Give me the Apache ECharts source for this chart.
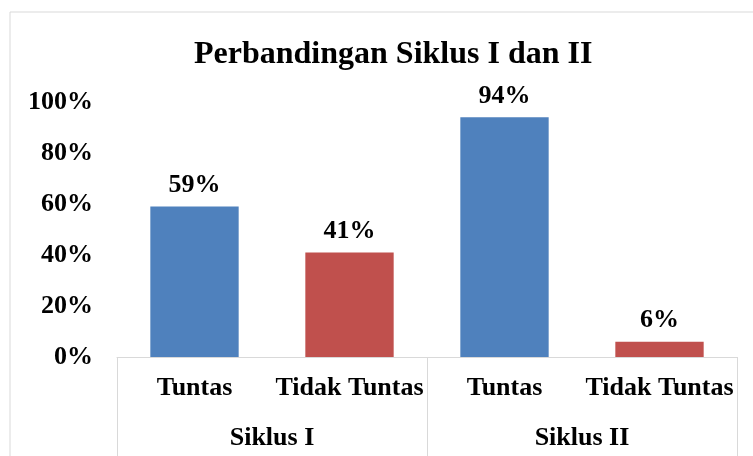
<!DOCTYPE html>
<html>
<head>
<meta charset="utf-8">
<script src="https://cdn.jsdelivr.net/npm/echarts@6/dist/echarts.min.js"></script>
<style>
  html, body { margin: 0; padding: 0; background: #fff; }
  #main { width: 753px; height: 456px; }
</style>
</head>
<body>
<div id="main"></div>
<script>
// data
const categories = ["Tuntas", "Tidak Tuntas", "Tuntas", "Tidak Tuntas"];
const groups = ["Siklus I", "Siklus II"];
const values = [59, 41, 94, 6];
const barColors = ["#4F81BD", "#C0504D"];

const font = "'Liberation Serif', 'Times New Roman', serif";

const chart = echarts.init(document.getElementById("main"));

const option = {
  animation: false,
  title: {
    text: "Perbandingan Siklus I dan II",
    left: 189,
    top: 34,
    textStyle: { fontFamily: font, fontSize: 32, fontWeight: "bold", color: "#000" }
  },
  // outer border of the chart area
  graphic: [
    {
      type: "rect",
      shape: { x: 10, y: 12, width: 780, height: 480 },
      style: { fill: "none", stroke: "#d9d9d9", lineWidth: 1 },
      silent: true
    }
  ],
  grid: { left: 117, right: 16, top: 102, bottom: 99 },
  xAxis: [
    {
      type: "category",
      data: categories,
      axisLine: { lineStyle: { color: "#d9d9d9", width: 1 } },
      axisTick: { show: false },
      axisLabel: {
        interval: 0,
        margin: 18,
        color: "#000",
        fontFamily: font,
        fontSize: 26,
        fontWeight: "bold"
      }
    },
    {
      type: "category",
      data: groups,
      position: "bottom",
      axisLine: { show: false },
      axisTick: { show: true, length: 100, lineStyle: { color: "#d9d9d9" } },
      axisLabel: {
        interval: 0,
        margin: 68,
        color: "#000",
        fontFamily: font,
        fontSize: 26,
        fontWeight: "bold"
      }
    }
  ],
  yAxis: {
    type: "value",
    min: 0,
    max: 100,
    interval: 20,
    axisLine: { show: false },
    axisTick: { show: false },
    splitLine: { show: false },
    axisLabel: {
      formatter: "{value}%",
      margin: 24,
      padding: [4, 0, 0, 0],
      color: "#000",
      fontFamily: font,
      fontSize: 26,
      fontWeight: "bold"
    }
  },
  series: [
    {
      type: "bar",
      xAxisIndex: 0,
      data: values,
      barWidth: "57%",
      itemStyle: {
        color: (p) => barColors[p.dataIndex % 2]
      },
      label: {
        show: true,
        position: "top",
        distance: 8,
        formatter: "{c}%",
        color: "#000",
        fontFamily: font,
        fontSize: 26,
        fontWeight: "bold"
      }
    }
  ]
};

chart.setOption(option);
</script>
</body>
</html>
